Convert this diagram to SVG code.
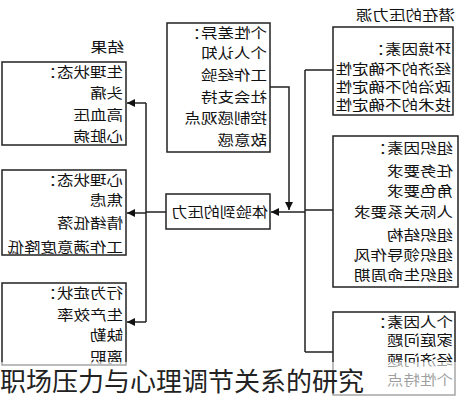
<svg xmlns="http://www.w3.org/2000/svg" width="463" height="400" viewBox="0 0 463 400">
<style>
.box{fill:#fff;stroke:#222;stroke-width:1.5}
.ln{fill:none;stroke:#222;stroke-width:1.5}
.t{font-family:"Noto Sans CJK SC","Noto Sans",sans-serif;font-size:14px;fill:#111}
.cap{font-family:"Noto Sans CJK SC","Noto Sans",sans-serif;font-size:26px;fill:#222}
</style>
<defs>
<marker id="ah" viewBox="0 0 10 10" refX="10" refY="5" markerWidth="9" markerHeight="8" markerUnits="userSpaceOnUse" orient="auto">
<path d="M0,0 L10,5 L0,10 z" fill="#111"/>
</marker>
</defs>
<rect width="463" height="400" fill="#fff"/>
<g id="connectors">
<path class="ln" d="M166,212 H146 M146,103 V322"/>
<path class="ln" d="M146,103 H127" marker-end="url(#ah)"/>
<path class="ln" d="M146,213 H127" marker-end="url(#ah)"/>
<path class="ln" d="M146,322 H127" marker-end="url(#ah)"/>
<path class="ln" d="M305,212 H271" marker-end="url(#ah)"/>
<path class="ln" d="M270,87 H289 V210" marker-end="url(#ah)"/>
<path class="ln" d="M305,70 V352 M305,70 H333 M305,210 H333 M305,352 H333"/>
</g>
<g id="results-title"><text class="t" transform="translate(124,52) scale(-1.2,1)">结果</text></g>
<g id="physio">
<rect class="box" x="2" y="62" width="124" height="83"/>
<text class="t" transform="translate(123,77) scale(-1.18,1)">生理状态：</text>
<text class="t" transform="translate(123,98) scale(-1.18,1)">头痛</text>
<text class="t" transform="translate(123,120) scale(-1.18,1)">高血压</text>
<text class="t" transform="translate(123,141) scale(-1.18,1)">心脏病</text>
</g>
<g id="psych">
<rect class="box" x="2" y="170" width="124" height="85"/>
<text class="t" transform="translate(123,185) scale(-1.18,1)">心理状态：</text>
<text class="t" transform="translate(123,205) scale(-1.18,1)">焦虑</text>
<text class="t" transform="translate(123,228) scale(-1.18,1)">情绪低落</text>
<text class="t" transform="translate(123,252) scale(-1.18,1)">工作满意度降低</text>
</g>
<g id="behav">
<rect class="box" x="2" y="283" width="124" height="82"/>
<text class="t" transform="translate(123,298) scale(-1.18,1)">行为症状：</text>
<text class="t" transform="translate(123,320) scale(-1.18,1)">生产效率</text>
<text class="t" transform="translate(123,340) scale(-1.18,1)">缺勤</text>
<text class="t" transform="translate(123,362) scale(-1.18,1)">离职</text>
</g>
<g id="stress">
<rect class="box" x="166" y="194" width="104" height="35"/>
<text class="t" transform="translate(268,217) scale(-1.15,1)">体验到的压力</text>
</g>
<g id="individual">
<rect class="box" x="167" y="23" width="103" height="129"/>
<text class="t" transform="translate(267,38) scale(-1.18,1)">个性差异：</text>
<text class="t" transform="translate(267,58) scale(-1.18,1)">个人认知</text>
<text class="t" transform="translate(267,80) scale(-1.18,1)">工作经验</text>
<text class="t" transform="translate(267,102) scale(-1.18,1)">社会支持</text>
<text class="t" transform="translate(267,123) scale(-1.18,1)">控制感观点</text>
<text class="t" transform="translate(267,145) scale(-1.18,1)">敌意感</text>
</g>
<g id="sources-title"><text class="t" transform="translate(455,20) scale(-1.18,1)">潜在的压力源</text></g>
<g id="env">
<rect class="box" x="333" y="27" width="120" height="88"/>
<text class="t" transform="translate(451,54) scale(-1.18,1)">环境因素：</text>
<text class="t" transform="translate(451,74) scale(-1.18,1)">经济的不确定性</text>
<text class="t" transform="translate(451,92) scale(-1.18,1)">政治的不确定性</text>
<text class="t" transform="translate(451,110) scale(-1.18,1)">技术的不确定性</text>
</g>
<g id="org">
<rect class="box" x="333" y="136" width="125" height="151"/>
<text class="t" transform="translate(453,153) scale(-1.18,1)">组织因素：</text>
<text class="t" transform="translate(453,176) scale(-1.18,1)">任务要求</text>
<text class="t" transform="translate(453,196) scale(-1.18,1)">角色要求</text>
<text class="t" transform="translate(453,217) scale(-1.18,1)">人际关系要求</text>
<text class="t" transform="translate(453,240) scale(-1.18,1)">组织结构</text>
<text class="t" transform="translate(453,260) scale(-1.18,1)">组织领导作风</text>
<text class="t" transform="translate(453,280) scale(-1.18,1)">组织生命周期</text>
</g>
<g id="personal">
<rect class="box" x="333" y="312" width="122" height="83"/>
<text class="t" transform="translate(453,327) scale(-1.18,1)">个人因素：</text>
<text class="t" transform="translate(453,345) scale(-1.18,1)">家庭问题</text>
<text class="t" transform="translate(453,365) scale(-1.18,1)">经济问题</text>
<text class="t" transform="translate(453,385) scale(-1.18,1)">个性特点</text>
</g>
<rect x="0" y="362" width="463" height="38" fill="#fff" fill-opacity="0.6"/>
<text class="cap" x="0" y="391">职场压力与心理调节关系的研究</text>
</svg>
